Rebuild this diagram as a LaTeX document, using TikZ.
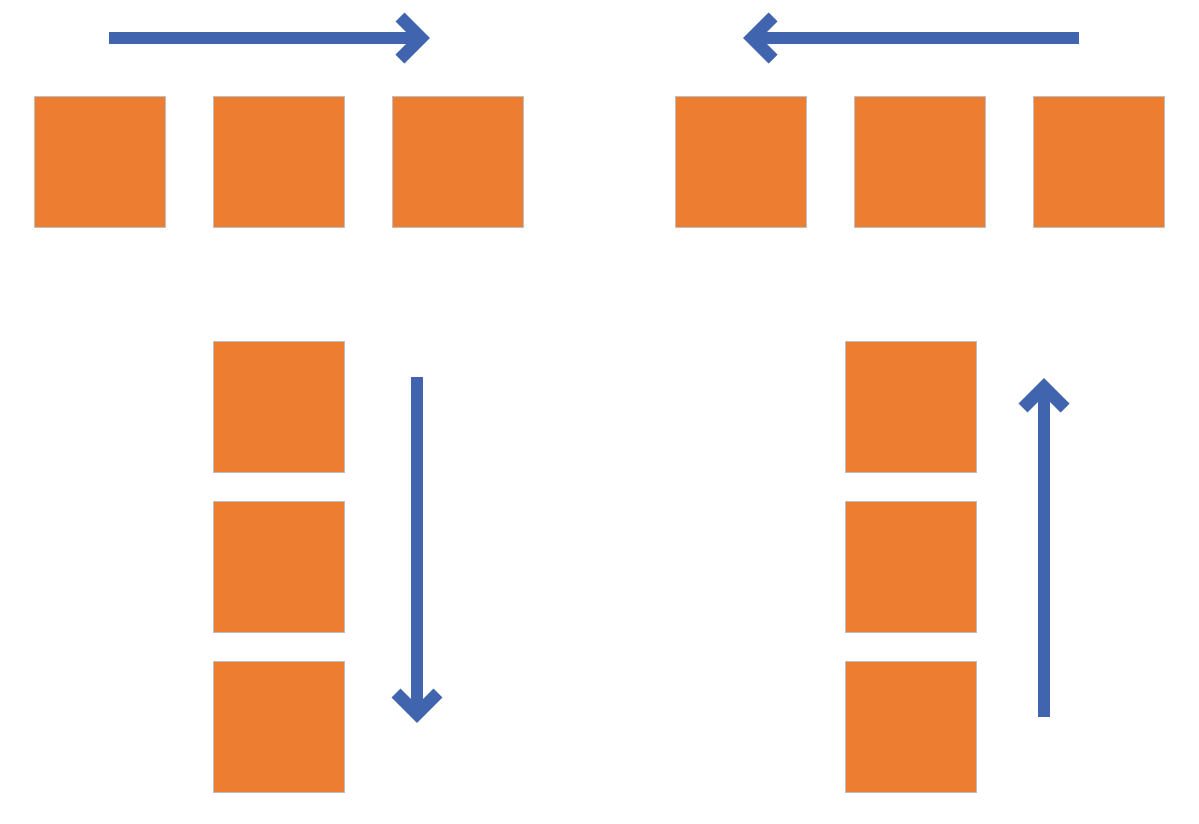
\documentclass[tikz,border=0pt]{standalone}
\usetikzlibrary{calc}
\definecolor{boxorange}{HTML}{ED7D31}
\definecolor{boxedge}{HTML}{BFBFBF}
\definecolor{arrowblue}{HTML}{4064AE}
\tikzset{
  sq/.style={draw=boxedge, line width=1pt, fill=boxorange, minimum width=131pt, minimum height=131pt, inner sep=0pt, outer sep=0pt, anchor=north west},
  shaft/.style={draw=arrowblue, line width=12.5pt, line cap=butt},
  chev/.style={draw=arrowblue, line width=12.5pt, line cap=butt, line join=miter}
}
\begin{document}
\begin{tikzpicture}[x=1pt,y=-1pt]
\useasboundingbox (0,0) rectangle (1199,823);
% top row left
\node[sq] (a1) at (34,96) {};
\node[sq] (a2) at (213,96) {};
\node[sq] (a3) at (392,96) {};
% top row right
\node[sq] (b1) at (675,96) {};
\node[sq] (b2) at (854,96) {};
\node[sq] (b3) at (1033,96) {};
% bottom left column
\node[sq] (c1) at (213,341) {};
\node[sq] (c2) at (213,501) {};
\node[sq] (c3) at (213,661) {};
% bottom right column
\node[sq] (d1) at (845,341) {};
\node[sq] (d2) at (845,501) {};
\node[sq] (d3) at (845,661) {};
% arrow coordinates
\coordinate (r0) at (109,38);  \coordinate (r1) at (421,38);
\coordinate (l0) at (1079,38); \coordinate (l1) at (752,38);
\coordinate (dn0) at (417,377); \coordinate (dn1) at (417,714);
\coordinate (up0) at (1044,717); \coordinate (up1) at (1044,387);
% right arrow
\draw[shaft] (r0) -- (r1);
\draw[chev] ($(r1)+(-21,-21)$) -- (r1) -- ($(r1)+(-21,21)$);
% left arrow
\draw[shaft] (l0) -- (l1);
\draw[chev] ($(l1)+(21,-21)$) -- (l1) -- ($(l1)+(21,21)$);
% down arrow
\draw[shaft] (dn0) -- (dn1);
\draw[chev] ($(dn1)+(-21,-21)$) -- (dn1) -- ($(dn1)+(21,-21)$);
% up arrow
\draw[shaft] (up0) -- (up1);
\draw[chev] ($(up1)+(-21,21)$) -- (up1) -- ($(up1)+(21,21)$);
\end{tikzpicture}
\end{document}
